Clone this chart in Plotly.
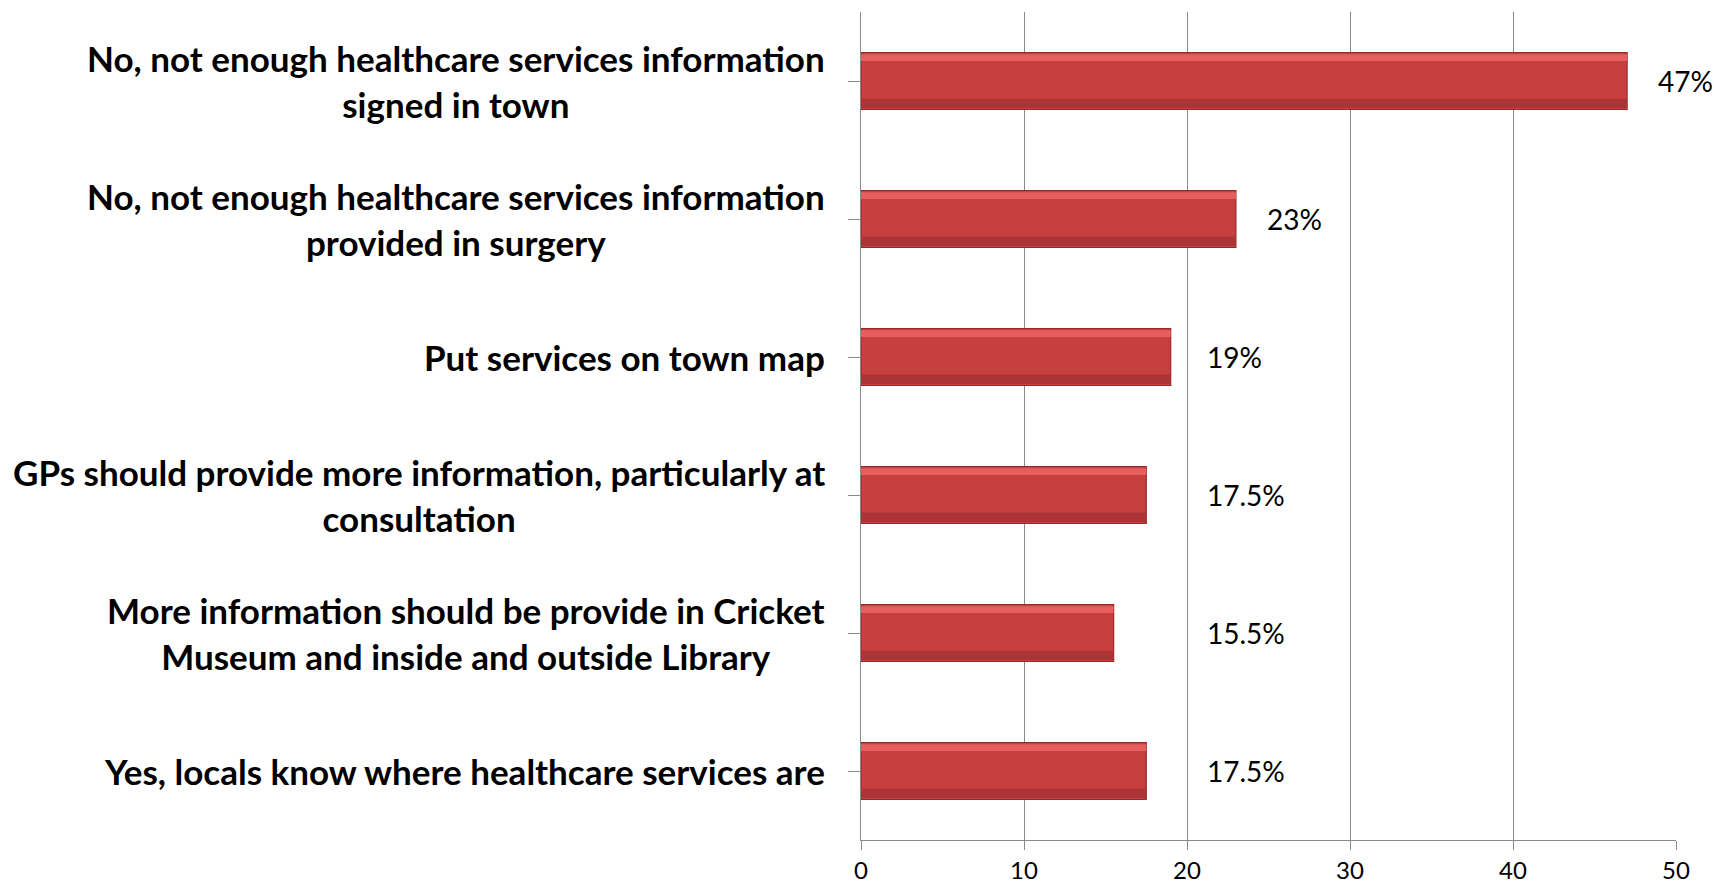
import plotly.graph_objects as go

# categories, top to bottom
categories = [
    "No, not enough healthcare services information<br>signed in town",
    "No, not enough healthcare services information<br>provided in surgery",
    "Put services on town map",
    "GPs should provide more information, particularly at<br>consultation",
    "More information should be provide in Cricket<br>Museum and inside and outside Library",
    "Yes, locals know where healthcare services are",
]
values = [47, 23, 19, 17.5, 15.5, 17.5]
value_labels = ["47%", "23%", "19%", "17.5%", "15.5%", "17.5%"]
x_ticks = [0, 10, 20, 30, 40, 50]

FONT = "Lato"
GREY = "#8a8a8a"
BAR_W = 0.413
idx = list(range(len(categories)))

fig = go.Figure()

# main bar body
fig.add_trace(go.Bar(
    x=values, y=idx, orientation="h",
    width=BAR_W, offset=-BAR_W / 2,
    marker=dict(color="#c83f3f", line=dict(color="#962a2a", width=1.2)),
    hoverinfo="skip", showlegend=False,
))
# light bevel strip along the top
fig.add_trace(go.Bar(
    x=values, y=idx, orientation="h",
    width=0.05, offset=-BAR_W / 2 + 0.012,
    marker=dict(color="#e65e5d", line=dict(width=0)),
    hoverinfo="skip", showlegend=False,
))
# darker strip along the bottom
fig.add_trace(go.Bar(
    x=values, y=idx, orientation="h",
    width=0.07, offset=BAR_W / 2 - 0.08,
    marker=dict(color="#ad3434", line=dict(width=0)),
    hoverinfo="skip", showlegend=False,
))

annotations = []
for i, (cat, v, lab) in enumerate(zip(categories, values, value_labels)):
    # category label, lines centred on each other
    annotations.append(dict(
        x=0, xref="paper", xanchor="right", xshift=-34,
        y=i, yref="y", yanchor="middle",
        text=cat, showarrow=False, align="center",
        font=dict(family=FONT, size=35, color="black", weight="bold"),
    ))
    # value label to the right of the bar (short bars share one column)
    annotations.append(dict(
        x=max(v + 1.8, 21.1) / x_ticks[-1], xref="paper", xanchor="left",
        y=i, yref="y", yanchor="middle",
        text=lab, showarrow=False,
        font=dict(family=FONT, size=28, color="black"),
    ))

fig.update_layout(
    barmode="overlay",
    width=1714, height=887,
    margin=dict(l=861, r=38, t=12, b=47),
    paper_bgcolor="white", plot_bgcolor="white",
    annotations=annotations,
    xaxis=dict(
        range=[0, 50], tickvals=x_ticks,
        showgrid=True, gridcolor=GREY, gridwidth=1.3,
        showline=True, linecolor=GREY, linewidth=1.3,
        ticks="outside", ticklen=9, tickcolor=GREY, tickwidth=1.3,
        tickfont=dict(family=FONT, size=24, color="black"),
        zeroline=False, fixedrange=True, automargin=False,
    ),
    yaxis=dict(
        range=[len(categories) - 0.5, -0.5],
        tickvals=idx, ticktext=[""] * len(idx),
        showline=True, linecolor=GREY, linewidth=1.3,
        ticks="outside", ticklen=12, tickcolor=GREY, tickwidth=1.3,
        tickson="boundaries",
        showgrid=False, zeroline=False, fixedrange=True, automargin=False,
    ),
)

# drop the page margin so the figure fills the window exactly
fig.write_html(
    "out.html",
    config={"displayModeBar": False},
    post_script="document.body.style.margin='0';document.body.style.overflow='hidden';",
)
